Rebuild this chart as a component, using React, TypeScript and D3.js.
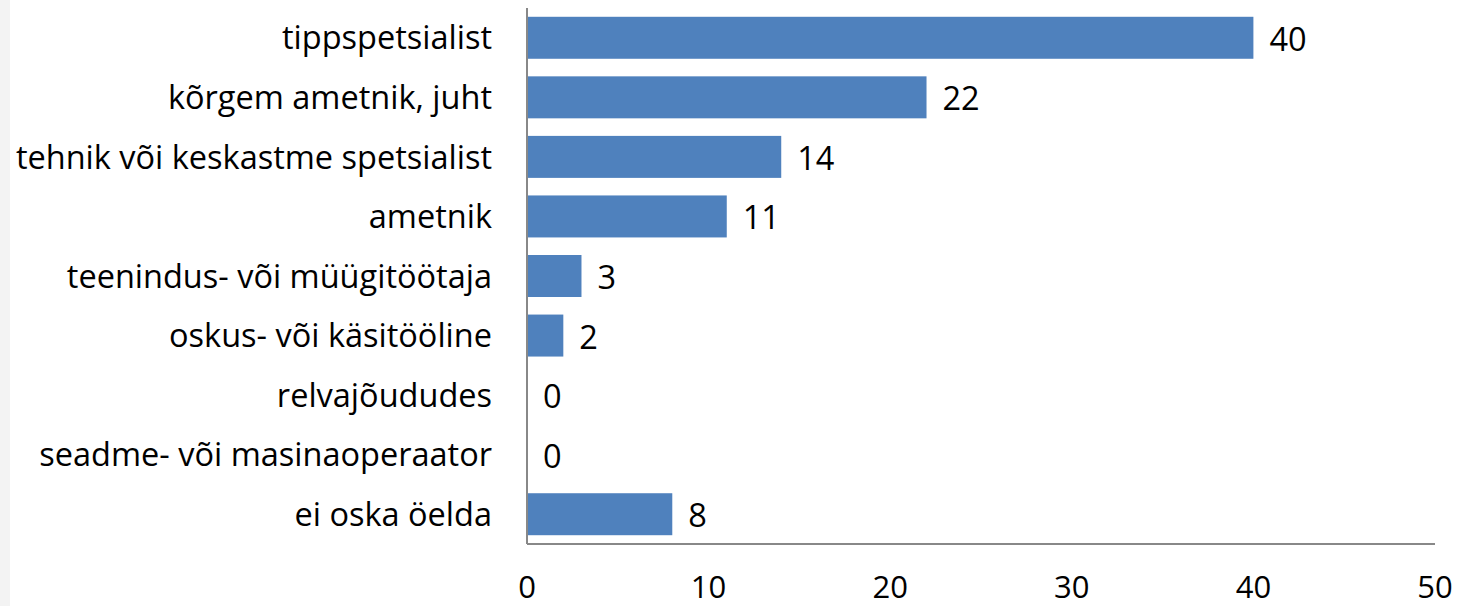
import React from "react";
import * as d3 from "d3";

const categories = [
  "tippspetsialist",
  "kõrgem ametnik, juht",
  "tehnik või keskastme spetsialist",
  "ametnik",
  "teenindus- või müügitöötaja",
  "oskus- või käsitööline",
  "relvajõududes",
  "seadme- või masinaoperaator",
  "ei oska öelda",
];
const values = [40, 22, 14, 11, 3, 2, 0, 0, 8];
const ticks = [0, 10, 20, 30, 40, 50];

const W = 1472;
const H = 606;
const left = 527;
const right = 1435;
const top = 8;
const bottom = 544;
const font = "'Open Sans', sans-serif";
const fs = 32.5;

export default function App() {
  const x = d3.scaleLinear().domain([0, 50]).range([left, right]);
  const y = d3.scaleBand<string>().domain(categories).range([top, bottom]).paddingInner(0.295).paddingOuter(0.1475);
  return (
    <svg width={W} height={H} style={{ position: "absolute", left: 0, top: 0 }}>
      <rect x={0} y={0} width={W} height={H} fill="#fff" />
      <rect x={0} y={0} width={10} height={H} fill="#f3f3f3" />
      {categories.map((c, i) => (
        <g key={c}>
          <rect x={x(0)} y={y(c)!} width={x(values[i]) - x(0)} height={y.bandwidth()} fill="#4F81BD" />
          <text x={left - 35} y={y(c)! + y.bandwidth() / 2} dy="0.36em" textAnchor="end" fontFamily={font} fontSize={fs} fill="#000">
            {c}
          </text>
          <text x={x(values[i]) + 16} y={y(c)! + y.bandwidth() / 2} dy="0.40em" fontFamily={font} fontSize={fs} fill="#000">
            {values[i]}
          </text>
        </g>
      ))}
      <line x1={left} x2={left} y1={top} y2={bottom} stroke="#888" strokeWidth={2} />
      <line x1={left} x2={right} y1={bottom} y2={bottom} stroke="#888" strokeWidth={2} />
      {ticks.map((t) => (
        <text key={t} x={x(t)} y={598} textAnchor="middle" fontFamily={font} fontSize={31} fill="#000">
          {t}
        </text>
      ))}
    </svg>
  );
}
